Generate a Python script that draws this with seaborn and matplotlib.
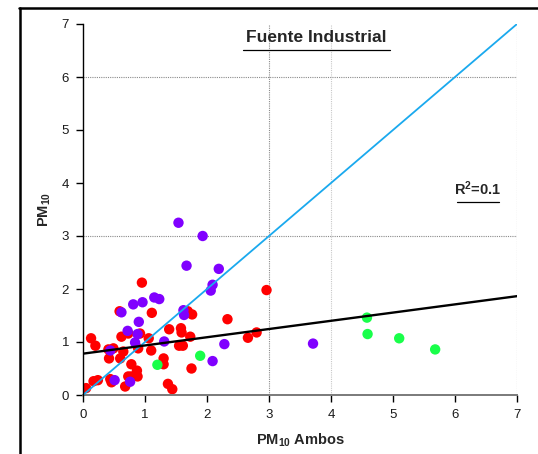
import numpy as np
import pandas as pd
import matplotlib
matplotlib.use("Agg")
import matplotlib.pyplot as plt
from matplotlib.lines import Line2D
import seaborn as sns

# PM10 concentrations: "Ambos" (x) versus industrial source (y), by group
red_x = [0.05, 0.13, 0.20, 0.17, 0.24, 0.41, 0.42, 0.49, 0.44, 0.46, 0.59, 0.62, 0.60,
         0.65, 0.68, 0.73, 0.73, 0.78, 0.78, 0.87, 0.88, 0.89, 0.92, 0.95, 1.06, 1.10,
         1.11, 1.30, 1.30, 1.39, 1.37, 1.44, 1.58, 1.59, 1.55, 1.61, 1.69, 1.76, 1.73,
         1.75, 2.33, 2.66, 2.80, 2.96]
red_y = [0.13, 1.07, 0.93, 0.26, 0.28, 0.86, 0.69, 0.88, 0.30, 0.24, 1.58, 1.10, 0.69,
         0.82, 0.16, 0.35, 1.16, 0.58, 0.35, 0.46, 0.35, 0.88, 1.16, 2.12, 1.07, 0.84,
         1.55, 0.69, 0.58, 1.24, 0.21, 0.11, 1.26, 1.18, 0.93, 0.93, 1.58, 1.52, 1.10,
         0.50, 1.43, 1.08, 1.18, 1.98]

purple_x = [1.54, 1.93, 1.67, 2.19, 2.09, 2.06, 1.15, 1.23, 0.81, 0.96, 0.62, 0.90,
            0.72, 0.88, 0.84, 1.31, 0.44, 1.62, 1.63, 2.28, 2.09, 0.51, 0.76, 3.71]
purple_y = [3.25, 3.00, 2.44, 2.38, 2.08, 1.97, 1.84, 1.81, 1.71, 1.75, 1.56, 1.38,
            1.21, 1.15, 0.99, 1.01, 0.84, 1.60, 1.51, 0.96, 0.64, 0.28, 0.25, 0.97]

green_x = [1.20, 1.89, 4.58, 4.59, 5.10, 5.68]
green_y = [0.57, 0.74, 1.46, 1.15, 1.07, 0.86]

# Linear fit and 1:1 reference
fit_intercept = 0.78
fit_slope = 0.155
r_squared = 0.1
axis_ticks = [0, 1, 2, 3, 4, 5, 6, 7]

df = pd.DataFrame({
    "x": red_x + purple_x + green_x,
    "y": red_y + purple_y + green_y,
    "grupo": ["a"] * len(red_x) + ["b"] * len(purple_x) + ["c"] * len(green_x),
})
palette = {"a": "#ff0000", "b": "#8000ff", "c": "#19ff4a"}

sns.set_theme(style="white")
plt.rcParams["font.family"] = ["Liberation Sans", "DejaVu Sans"]
plt.rcParams["mathtext.fontset"] = "custom"
plt.rcParams["mathtext.rm"] = "Liberation Sans"
plt.rcParams["mathtext.bf"] = "Liberation Sans:bold"

fig = plt.figure(figsize=(5.38, 4.54), dpi=100)
ax = fig.add_axes([83 / 538, 1 - 395 / 454, (517 - 83) / 538, (395 - 24) / 454])

# dotted reference grid
grid_kw = dict(linestyle=(0, (1, 1)), linewidth=0.8, zorder=0)
for gy in (3, 6):
    ax.axhline(gy, color="#8a8a8a", **grid_kw)
ax.axvline(3, color="#8a8a8a", **grid_kw)
ax.axvline(4, color="#c8c8c8", **grid_kw)
ax.axvline(7, color="#8a8a8a", **grid_kw)

sns.scatterplot(data=df, x="x", y="y", hue="grupo", palette=palette, s=56,
                edgecolor="none", linewidth=0, legend=False, ax=ax, zorder=2)

xs = np.array([0, 7])
ax.plot(xs, xs, color="#1aa9ee", linewidth=1.3, zorder=3)
ax.plot(xs, fit_intercept + fit_slope * xs, color="black", linewidth=1.7, zorder=3)

ax.set_xlim(0, 7)
ax.set_ylim(0, 7)
ax.set_xticks(axis_ticks)
ax.set_yticks(axis_ticks)
ax.set_xticklabels([str(t) for t in axis_ticks])
ax.set_yticklabels([str(t) for t in axis_ticks])

for side in ("top", "right"):
    ax.spines[side].set_visible(False)
ax.spines["left"].set_color("black")
ax.spines["left"].set_linewidth(1.0)
ax.spines["bottom"].set_color("#7a7a7a")
ax.spines["bottom"].set_linewidth(1.4)
ax.spines["left"].set_zorder(4)
ax.tick_params(axis="both", which="major", direction="out", length=5, width=1,
               color="black", labelsize=9.5, labelcolor="#1a1a1a", pad=5,
               bottom=True, left=True)

ax.set_xlabel(r"$\mathbf{PM_{10}}$ Ambos", fontsize=10.5, fontweight="bold", labelpad=8)
ax.set_ylabel(r"$\mathbf{PM_{10}}$", fontsize=10.5, fontweight="bold", labelpad=6)

# in-plot title and R² annotation, each underlined
ax.text(316 / 538, 1 - 38 / 454, "Fuente Industrial", transform=fig.transFigure,
        ha="center", va="center", fontsize=12.5, fontweight="heavy")
fig.add_artist(Line2D([243 / 538, 390 / 538], [1 - 50 / 454] * 2, color="black",
                      linewidth=0.9, transform=fig.transFigure))
ax.text(478 / 538, 1 - 189 / 454, rf"$\mathbf{{R^2}}$=0.1",
        transform=fig.transFigure, ha="center", va="center", fontsize=10.5,
        fontweight="bold", family=["Liberation Sans Narrow", "Liberation Sans"])
fig.add_artist(Line2D([457 / 538, 499 / 538], [1 - 202 / 454] * 2, color="black",
                      linewidth=0.9, transform=fig.transFigure))

# outer frame
fig.add_artist(Line2D([20 / 538, 20 / 538], [0, 1 - 8 / 454], color="black",
                      linewidth=1.8, transform=fig.transFigure))
fig.add_artist(Line2D([19 / 538, 1], [1 - 8 / 454] * 2, color="black",
                      linewidth=1.8, transform=fig.transFigure))

fig.savefig("out.png", dpi=100)
